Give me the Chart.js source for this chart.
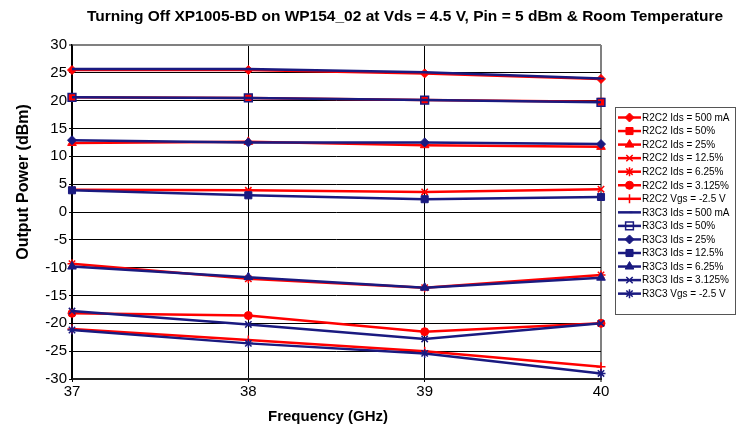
<!DOCTYPE html>
<html>
<head>
<meta charset="utf-8">
<style>
  html, body { margin: 0; padding: 0; background: #fff; }
  #wrap { width: 738px; height: 424px; }
</style>
<script src="https://cdn.jsdelivr.net/npm/chart.js@4.4.1/dist/chart.umd.min.js"></script>
</head>
<body>
<div id="wrap"><canvas id="chartPower" width="738" height="424"></canvas></div>
<script>
// ==================================================
// DATA
// ==================================================
const freqLabels = ['37', '38', '39', '40'];
const yTicks = { min: -30, max: 30, step: 5 };

const r2c2Ids500mA = [25.5, 25.5, 24.9, 23.9];
const r2c2Ids50 = [20.6, 20.5, 20.1, 19.8];
const r2c2Ids25 = [12.4, 12.6, 12.0, 11.7];
const r2c2Ids12_5 = [4.0, 3.9, 3.6, 4.1];
const r2c2Ids6_25 = [-9.3, -12.0, -13.6, -11.3];
const r2c2Ids3_125 = [-18.2, -18.6, -21.5, -20.0];
const r2c2Vgs = [-21.0, -23.0, -25.0, -27.8];

const r3c3Ids500mA = [25.7, 25.7, 25.1, 24.0];
const r3c3Ids50 = [20.6, 20.5, 20.1, 19.7];
const r3c3Ids25 = [12.9, 12.5, 12.5, 12.2];
const r3c3Ids12_5 = [3.9, 3.0, 2.3, 2.7];
const r3c3Ids6_25 = [-9.8, -11.7, -13.6, -11.8];
const r3c3Ids3_125 = [-17.8, -20.2, -22.8, -20.0];
const r3c3Vgs = [-21.2, -23.6, -25.4, -29.0];

const RED = '#ff0000';
const NAVY = '#1a1a80';
const FONT = 'Arial, "Liberation Sans", sans-serif';

// label, data, colour, marker, radius, filled
const seriesDefs = [
    ['R2C2 Ids = 500 mA', r2c2Ids500mA, RED, 'rectRot', 4.5, true],
    ['R2C2 Ids = 50%', r2c2Ids50, RED, 'rect', 5, true],
    ['R2C2 Ids = 25%', r2c2Ids25, RED, 'triangle', 5, true],
    ['R2C2 Ids = 12.5%', r2c2Ids12_5, RED, 'crossRot', 4.5, false],
    ['R2C2 Ids = 6.25%', r2c2Ids6_25, RED, 'star', 4.5, false],
    ['R2C2 Ids = 3.125%', r2c2Ids3_125, RED, 'circle', 4, true],
    ['R2C2 Vgs = -2.5 V', r2c2Vgs, RED, 'cross', 4.5, false],
    ['R3C3 Ids = 500 mA', r3c3Ids500mA, NAVY, 'dash', 3, false],
    ['R3C3 Ids = 50%', r3c3Ids50, NAVY, 'rect', 5.5, false],
    ['R3C3 Ids = 25%', r3c3Ids25, NAVY, 'rectRot', 4.5, true],
    ['R3C3 Ids = 12.5%', r3c3Ids12_5, NAVY, 'rect', 5, true],
    ['R3C3 Ids = 6.25%', r3c3Ids6_25, NAVY, 'triangle', 5, true],
    ['R3C3 Ids = 3.125%', r3c3Ids3_125, NAVY, 'crossRot', 4.5, false],
    ['R3C3 Vgs = -2.5 V', r3c3Vgs, NAVY, 'star', 4.5, false],
];

const datasets = seriesDefs.map(([label, data, color, style, r, filled], i) => ({
    label,
    data,
    borderColor: color,
    backgroundColor: filled ? color : 'rgba(0,0,0,0)',
    borderWidth: 2.5,
    pointStyle: style,
    pointRadius: r,
    pointBorderWidth: filled ? 1 : 1.5,
    pointBorderColor: color,
    pointBackgroundColor: filled ? color : 'rgba(0,0,0,0)',
    tension: 0,
    order: i < 7 ? 1 : 0, // navy drawn over red like the original
}));

// ==================================================
// PLUGINS — title, axis titles, boxed legend
// ==================================================
const decorPlugin = {
    id: 'decor',
    afterDraw(chart) {
        const { ctx } = chart;
        ctx.save();
        ctx.fillStyle = '#000';
        ctx.textBaseline = 'middle';
        ctx.textAlign = 'center';

        ctx.font = `bold 15.5px ${FONT}`;
        ctx.fillText('Turning Off XP1005-BD on WP154_02 at Vds = 4.5 V, Pin = 5 dBm & Room Temperature', 405, 17);

        ctx.font = `bold 15px ${FONT}`;
        ctx.fillText('Frequency (GHz)', 328, 417);

        ctx.save();
        ctx.translate(24, 182);
        ctx.rotate(-Math.PI / 2);
        ctx.font = `bold 16px ${FONT}`;
        ctx.fillText('Output Power (dBm)', 0, 0);
        ctx.restore();

        // legend box
        const bx = 615, by = 107, bw = 120, bh = 207;
        ctx.strokeStyle = '#555';
        ctx.lineWidth = 1;
        ctx.strokeRect(bx + 0.5, by + 0.5, bw, bh);

        const y0 = 117.5, dy = 13.55;
        ctx.textAlign = 'left';
        ctx.font = `10px ${FONT}`;
        chart.data.datasets.forEach((ds, i) => {
            const y = y0 + i * dy;
            ctx.strokeStyle = ds.borderColor;
            ctx.lineWidth = 2.5;
            ctx.beginPath();
            ctx.moveTo(618, y);
            ctx.lineTo(641, y);
            ctx.stroke();

            ctx.fillStyle = ds.pointBackgroundColor;
            ctx.strokeStyle = ds.pointBorderColor;
            ctx.lineWidth = ds.pointBorderWidth;
            if (Chart.helpers && Chart.helpers.drawPoint) {
                Chart.helpers.drawPoint(ctx, {
                    pointStyle: ds.pointStyle,
                    radius: ds.pointRadius,
                    rotation: 0,
                    borderWidth: ds.pointBorderWidth,
                }, 629.5, y);
            }
            ctx.fillStyle = '#000';
            ctx.fillText(ds.label, 642, y + 0.5);
        });
        ctx.restore();
    },
};

// ==================================================
// CHART
// ==================================================
const ctxPower = document.getElementById('chartPower');
new Chart(ctxPower, {
    type: 'line',
    data: { labels: freqLabels, datasets },
    options: {
        responsive: false,
        animation: false,
        layout: { padding: { left: 0, top: 45, right: 137, bottom: 0 } },
        plugins: { legend: { display: false }, title: { display: false }, tooltip: { enabled: false } },
        scales: {
            x: {
                offset: false,
                afterFit: s => { s.height = 45; },
                border: { color: '#222', width: 2 },
                grid: {
                    color: c => (c.index === freqLabels.length - 1 ? '#808080' : '#000'),
                    lineWidth: c => (c.index === freqLabels.length - 1 ? 2 : 1),
                    tickLength: 3,
                },
                ticks: { color: '#000', font: { family: FONT, size: 15 }, padding: 1, maxRotation: 0 },
            },
            y: {
                min: yTicks.min,
                max: yTicks.max,
                afterFit: s => { s.width = 72; },
                border: { color: '#000', width: 1.5 },
                grid: {
                    color: c => (c.tick && c.tick.value === yTicks.max ? '#808080' : '#000'),
                    lineWidth: c => (c.tick && c.tick.value === yTicks.max ? 2 : 1),
                    tickLength: 3,
                },
                ticks: { stepSize: yTicks.step, color: '#000', font: { family: FONT, size: 15 }, padding: 2 },
            },
        },
    },
    plugins: [decorPlugin],
});
</script>
</body>
</html>
